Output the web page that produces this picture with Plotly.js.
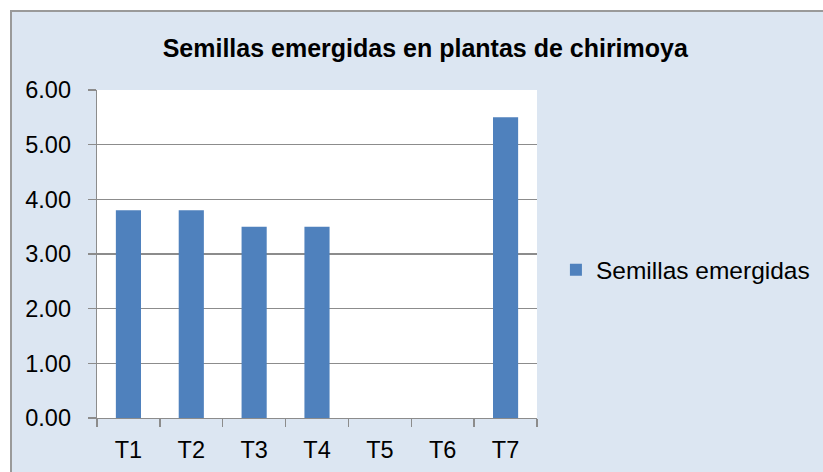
<!DOCTYPE html>
<html>
<head>
<meta charset="utf-8">
<script src="https://cdn.plot.ly/plotly-3.0.1.min.js"></script>
<style>
  html, body { margin: 0; padding: 0; background: #ffffff; overflow: hidden; width: 823px; height: 472px; }
  #chart { position: absolute; left: 10px; top: 10px; width: 820px; height: 470px;
           border-left: 2px solid #9a9a9a; border-top: 2px solid #9a9a9a; }
</style>
</head>
<body>
<div id="chart"></div>
<script>
const categories = ["T1", "T2", "T3", "T4", "T5", "T6", "T7"];
const values = [3.8, 3.8, 3.5, 3.5, 0, 0, 5.5];
const seriesName = "Semillas emergidas";
const chartTitle = "Semillas emergidas en plantas de chirimoya";
const yTicks = [0, 1, 2, 3, 4, 5, 6];

const FONT = "Liberation Sans, Arial, sans-serif";
const trace = {
  type: "bar",
  x: categories,
  y: values,
  name: seriesName,
  marker: { color: "#4f81bd" },
  showlegend: true,
  hoverinfo: "none"
};

const layout = {
  width: 820,
  height: 470,
  paper_bgcolor: "#dce6f2",
  plot_bgcolor: "#ffffff",
  font: { family: FONT, color: "#000000", size: 23 },
  margin: { l: 85, r: 295, t: 78, b: 63.7, pad: 0 },
  title: {
    text: "<b>" + chartTitle + "</b>",
    font: { family: FONT, size: 25, color: "#000000" },
    x: 0.504, xanchor: "center", xref: "container",
    y: 0.922, yanchor: "middle", yref: "container"
  },
  bargap: 0.6,
  showlegend: true,
  legend: {
    x: 1.043, xanchor: "left",
    y: 0.452, yanchor: "middle",
    bgcolor: "rgba(0,0,0,0)",
    font: { family: FONT, size: 24.5, color: "#000000" }
  },
  xaxis: {
    type: "category",
    showline: true, linecolor: "#8c8c8c", linewidth: 1.3,
    ticks: "outside", tickson: "boundaries", ticklen: 8, tickcolor: "#8c8c8c", tickwidth: 1.3,
    ticklabelstandoff: 10,
    showgrid: false, zeroline: false,
    tickfont: { family: FONT, size: 23.5, color: "#000000" }
  },
  yaxis: {
    range: [0, 6],
    tickvals: yTicks,
    tickformat: ".2f",
    showline: true, linecolor: "#8c8c8c", linewidth: 1.3,
    ticks: "outside", ticklen: 8, tickcolor: "#8c8c8c", tickwidth: 1.3,
    ticklabelstandoff: 12,
    showgrid: true, gridcolor: "#8c8c8c", gridwidth: 1.3,
    zeroline: false,
    tickfont: { family: FONT, size: 23.5, color: "#000000" }
  }
};

Plotly.newPlot("chart", [trace], layout, { displayModeBar: false, staticPlot: true });
</script>
</body>
</html>
